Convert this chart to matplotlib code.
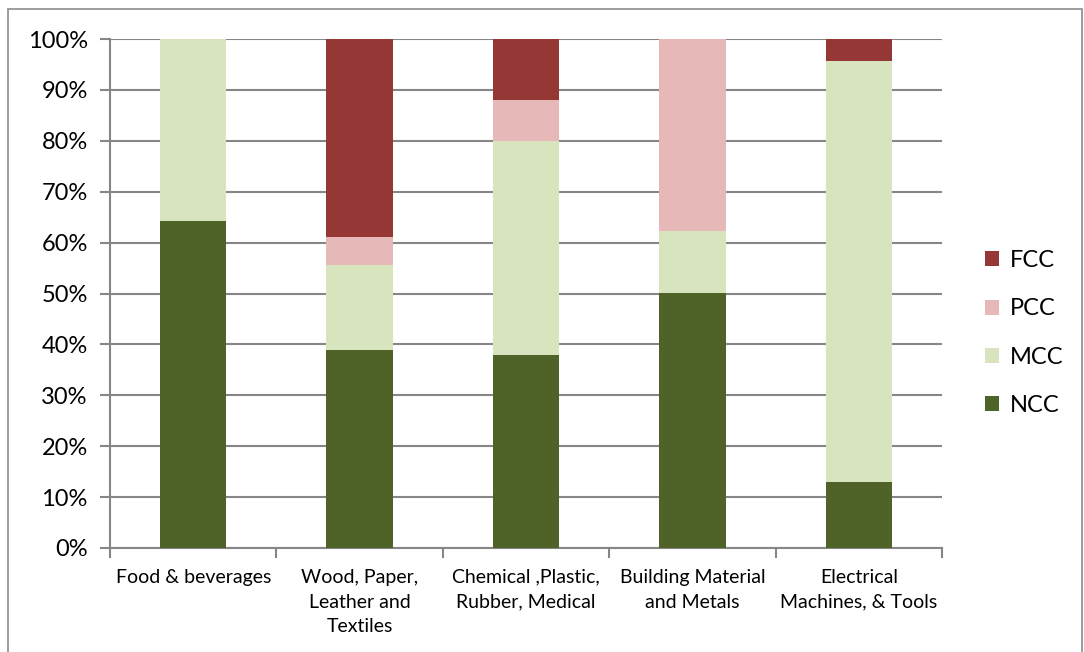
import matplotlib
matplotlib.use("Agg")
import matplotlib.pyplot as plt
from matplotlib.patches import Rectangle
import numpy as np

categories = [
    "Food & beverages",
    "Wood, Paper,\nLeather and\nTextiles",
    "Chemical ,Plastic,\nRubber, Medical",
    "Building Material\nand Metals",
    "Electrical\nMachines, & Tools",
]
ncc = [64.2, 38.9, 37.9, 50.1, 13.0]
mcc = [35.8, 16.7, 42.1, 12.2, 82.7]
pcc = [0.0, 5.5, 8.0, 37.7, 0.0]
fcc = [0.0, 38.9, 12.0, 0.0, 4.3]
series_names = ["NCC", "MCC", "PCC", "FCC"]
series_colors = ["#4F6228", "#D7E4BD", "#E6B9B8", "#953735"]

plt.rcParams["font.family"] = ["Lato", "DejaVu Sans"]

fig = plt.figure(figsize=(10.84, 6.52), dpi=100)
ax = fig.add_axes([110 / 1084, 104 / 652, 832 / 1084, 509 / 652])

# outer chart frame
fig.patches.append(Rectangle((8 / 1084, -0.05), 1074 / 1084, 1.05 - 9 / 652,
                             transform=fig.transFigure, fill=False,
                             edgecolor="#8C8C8C", linewidth=1.2))

x = np.arange(len(categories))
bottom = np.zeros(len(categories))
handles = []
for vals, name, col in zip([ncc, mcc, pcc, fcc], series_names, series_colors):
    h = ax.bar(x, vals, width=0.4, bottom=bottom, color=col, label=name,
               zorder=3, linewidth=0)
    handles.append(h)
    bottom += np.array(vals)

ax.set_xlim(-0.5, len(categories) - 0.5)
ax.set_ylim(0, 100)
ax.set_yticks(np.arange(0, 101, 10))
ax.set_yticklabels([f"{v}%" for v in range(0, 101, 10)], fontsize=17)
ax.yaxis.grid(True, color="#868686", linewidth=1.5, zorder=0)

# category labels centred under bars, boundary ticks between categories
ax.set_xticks(x)
ax.set_xticklabels(categories, fontsize=14, linespacing=1.55)
ax.tick_params(axis="x", length=0, pad=15)
ax.set_xticks(np.arange(-0.5, len(categories), 1), minor=True)
ax.tick_params(axis="x", which="minor", length=7, color="#868686", width=1.5)
ax.tick_params(axis="y", length=7, color="#868686", width=1.5, pad=9)

for side in ["top", "right"]:
    ax.spines[side].set_visible(False)
for side in ["left", "bottom"]:
    ax.spines[side].set_color("#868686")
    ax.spines[side].set_linewidth(1.5)

leg = fig.legend(handles[::-1], series_names[::-1], loc="center left",
                 bbox_to_anchor=(964 / 1084, 1 - 333 / 652), frameon=False,
                 fontsize=17, handlelength=0.6, handleheight=0.6,
                 handletextpad=0.45, labelspacing=1.15)

fig.savefig("out.png", dpi=100, facecolor="white")
